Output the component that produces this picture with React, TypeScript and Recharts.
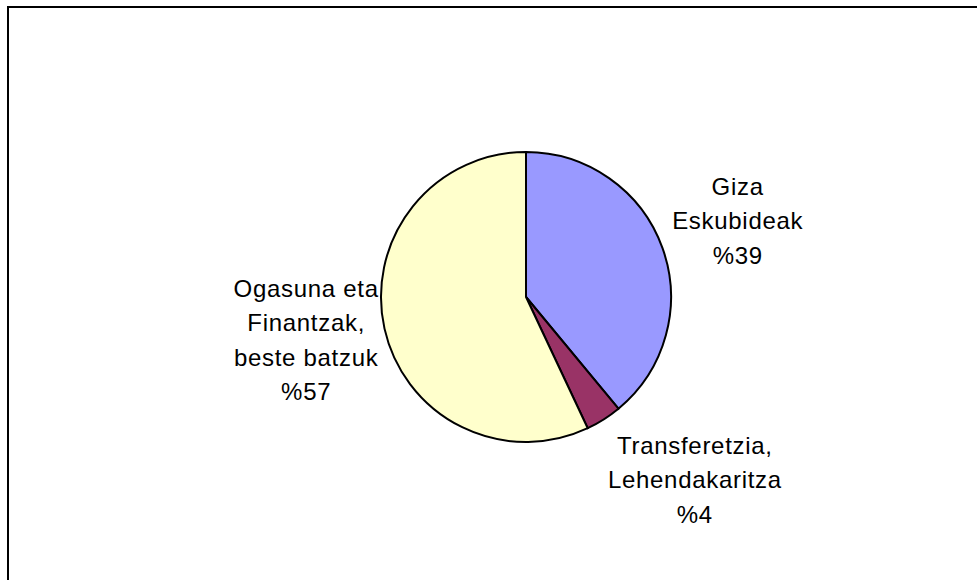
import { PieChart, Pie, Cell } from 'recharts'

// Slice data
const categories = ['Giza Eskubideak', 'Transferetzia, Lehendakaritza', 'Ogasuna eta Finantzak, beste batzuk']
const labelLines = [
  ['Giza', 'Eskubideak', '%39'],
  ['Transferetzia,', 'Lehendakaritza', '%4'],
  ['Ogasuna eta', 'Finantzak,', 'beste batzuk', '%57'],
]
const values = [39, 4, 57]
const colors = ['#9999FF', '#993366', '#FFFFCC']

const data = categories.map((name, i) => ({ name, value: values[i] }))

// label placement (excel "best fit" style)
const labelDist = [225, 249, 224]
const labelNudge = [0, 10.3, -1.5]
const RAD = Math.PI / 180
const LINE_H = 34.5

const renderLabel = (props: any) => {
  const { cx, cy, midAngle, index } = props
  const a = (midAngle + labelNudge[index]) * RAD
  const x = cx + labelDist[index] * Math.cos(a)
  const y = cy - labelDist[index] * Math.sin(a)
  const lines = labelLines[index]
  const top = y - ((lines.length - 1) * LINE_H) / 2
  return (
    <text
      key={`lbl-${index}`}
      x={x}
      y={top}
      textAnchor="middle"
      fill="#000"
      fontSize={24}
      letterSpacing={0.7}
      fontFamily="'Liberation Sans', Arial, sans-serif"
    >
      {lines.map((l, i) => (
        <tspan key={i} x={x} y={top + i * LINE_H + 8.5}>
          {l}
        </tspan>
      ))}
    </text>
  )
}

export default function App() {
  return (
    <div style={{ position: 'absolute', left: 0, top: 0, width: 977, height: 580, overflow: 'hidden', background: '#fff' }}>
      <div
        style={{
          position: 'absolute',
          left: 7,
          top: 6,
          width: 1000,
          height: 620,
          border: '2px solid #000',
          boxSizing: 'border-box',
        }}
      />
      <div style={{ position: 'absolute', left: 0, top: 0 }}>
        <PieChart width={977} height={580} margin={{ top: 0, right: 0, bottom: 0, left: 0 }}>
          <Pie
            data={data}
            dataKey="value"
            nameKey="name"
            cx={526}
            cy={297}
            outerRadius={145}
            startAngle={90}
            endAngle={-270}
            stroke="#000"
            strokeWidth={2}
            label={renderLabel}
            labelLine={false}
            isAnimationActive={false}
          >
            {data.map((d, i) => (
              <Cell key={d.name} fill={colors[i]} />
            ))}
          </Pie>
        </PieChart>
      </div>
    </div>
  )
}
